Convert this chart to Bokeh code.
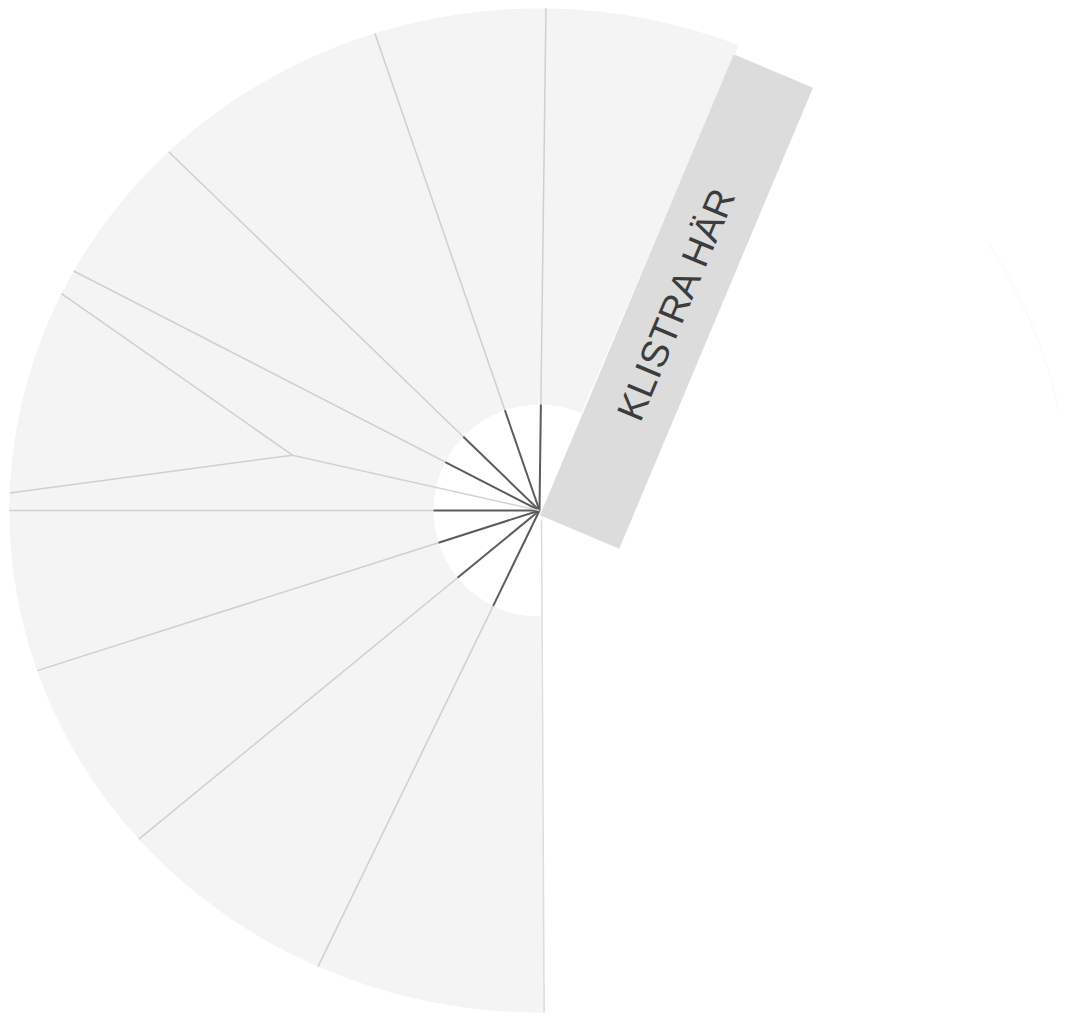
import numpy as np
from bokeh.plotting import figure
from bokeh.models import Range1d
from bokeh.core.properties import value
from bokeh.embed import file_html
from bokeh.resources import INLINE

# ---- data (angles in degrees, parametric on the ellipse; 90 = up) ----
spoke_angles = [89.3, 108.1, 134.4, 151.5, 180.0, 198.6, 220.9, 245.3]   # spokes with dark hub part
bottom_angle = 270.5                                                   # faint spoke at the bottom
fan_start, fan_end = 67.9, 270.5
kink_angle, kink_radius = 166.7, 0.479       # odd folded spoke: hub -> kink -> two rim points
kink_rim_angles = [154.4, 178.0]
label = "KLISTRA HÄR"

# ---- geometry / layout constants ----
CX, CY = 539, 510        # centre of the fan (screen px)
RX, RY = 530, 502        # outer radii
HUB = 106                # white hub radius
W, H = 1059, 1015

def rim(a):
    t = np.radians(a)
    return CX + RX * np.cos(t), CY - RY * np.sin(t)

def direction(a):
    t = np.radians(a)
    v = np.array([RX * np.cos(t), -RY * np.sin(t)])
    return v / np.hypot(*v)

p = figure(width=W, height=H, output_backend="svg", toolbar_location=None,
           x_range=Range1d(0, W), y_range=Range1d(H, 0),
           min_border=0)
p.axis.visible = False
p.grid.visible = False
p.outline_line_color = None
p.background_fill_color = "white"
p.border_fill_color = "white"

# faint outline of the rest of the circle
ta = np.linspace(2, 32, 100)
ox, oy = zip(*[rim(a) for a in ta])
p.line(list(ox), list(oy), line_color="#fafafa", line_width=1.5)

# fan body
ts = np.linspace(fan_start, fan_end, 400)
fx = [CX] + [rim(a)[0] for a in ts]
fy = [CY] + [rim(a)[1] for a in ts]
p.patch(fx, fy, fill_color="#f4f4f4", line_color=None)

# white hub
p.scatter([CX], [CY], size=2 * HUB, marker="circle", fill_color="white", line_color=None)

# spokes: light outer part, dark hub part
for a in spoke_angles:
    d = direction(a)
    hx, hy = CX + HUB * d[0], CY + HUB * d[1]
    rx_, ry_ = rim(a)
    p.line([hx, rx_], [hy, ry_], line_color="#cfcfcf", line_width=1.5)
    p.line([CX, hx], [CY, hy], line_color="#5c5c5c", line_width=2)

# faint bottom spoke
bx, by = rim(bottom_angle)
p.line([CX + 2, bx], [CY + 10, by], line_color="#dcdcdc", line_width=1.5)

# folded spoke
tk = np.radians(kink_angle)
kx, ky = CX + kink_radius * RX * np.cos(tk), CY - kink_radius * RY * np.sin(tk)
p.line([CX, kx], [CY, ky], line_color="#d2d2d2", line_width=1.5)
for a in kink_rim_angles:
    ex, ey = rim(a)
    p.line([kx, ex], [ky, ey], line_color="#cfcfcf", line_width=1.5)

# glue tab
tab_cx, tab_cy, tab_len, tab_w, tab_tilt = 676, 301, 500, 86, 22.8
u = np.array([np.sin(np.radians(tab_tilt)), -np.cos(np.radians(tab_tilt))])   # along (up)
v = np.array([-u[1], u[0]])                                                  # across (right)
c = np.array([tab_cx, tab_cy])
corners = [c - u * tab_len / 2 - v * tab_w / 2, c + u * tab_len / 2 - v * tab_w / 2,
           c + u * tab_len / 2 + v * tab_w / 2, c - u * tab_len / 2 + v * tab_w / 2]
p.patch([q[0] for q in corners], [q[1] for q in corners],
        fill_color="#dcdcdc", line_color=None)

p.text([tab_cx], [tab_cy + 2], text=[label], angle=90 - tab_tilt, angle_units="deg",
       text_font=value("Liberation Sans"), text_font_size="38px",
       text_color="#3c3c3c", text_align="center", text_baseline="middle")

open("out.html", "w").write(file_html(p, INLINE))
